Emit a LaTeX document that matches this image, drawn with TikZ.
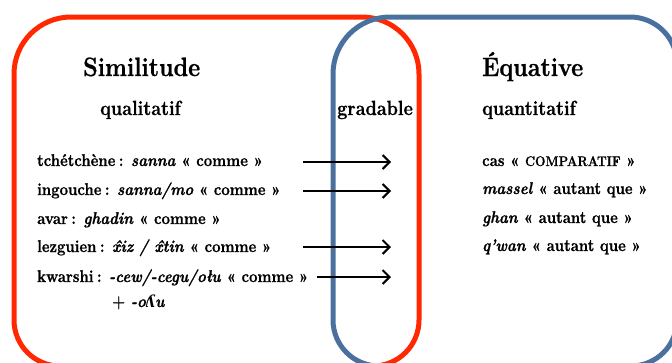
\documentclass[tikz,border=0pt]{standalone}
\usepackage{fontspec}
\setmainfont{Latin Modern Roman}[FakeStretch=0.88, BoldFeatures={FakeBold=0.9}, BoldItalicFeatures={FakeBold=0.9}]
\newfontfamily\ipafont{DejaVu Serif}[FakeStretch=0.85]
\newcommand\myxhat{\ooalign{x\cr\hidewidth\kern0.15em\char"02C6\hidewidth\cr}}
\usetikzlibrary{arrows.meta}
\definecolor{vred}{RGB}{255,40,0}
\definecolor{vblue}{RGB}{74,112,160}
\begin{document}
\begin{tikzpicture}[x=1pt,y=1pt,
  frame/.style={line width=5pt},
  lbl/.style={anchor=base west, inner sep=0pt, font=\bfseries\fontsize{17}{20}\selectfont},
  hdr/.style={anchor=base west, inner sep=0pt, font=\bfseries\fontsize{26.5}{30}\selectfont},
  subh/.style={anchor=base west, inner sep=0pt, font=\bfseries\fontsize{20.5}{24}\selectfont},
  arr/.style={line width=2pt, -{Straight Barb[length=7pt,width=14pt,line width=2pt]}}]
\useasboundingbox (0,0) rectangle (672,-362);
\clip (0,0) rectangle (672,-362);
% red frame
\draw[frame, vred] (14,-74) -- (14,-320) arc[start angle=180,end angle=270,radius=46]
  -- (373,-366) arc[start angle=270,end angle=360,radius=46]
  -- (419,-74) arc[start angle=0,end angle=90,radius=57]
  -- (71,-17) arc[start angle=90,end angle=180,radius=57] -- cycle;
% blue frame
\draw[frame, vblue] (333,-74) -- (333,-320) arc[start angle=180,end angle=270,radius=46]
  -- (631,-366) arc[start angle=270,end angle=360,radius=46]
  -- (677,-64) arc[start angle=0,end angle=90,radius=47]
  -- (390,-17) arc[start angle=90,end angle=180,radius=57] -- cycle;
% headings
\node[hdr] (sim) at (83,-76) {Similitude};
\node[subh] (qual) at (100,-115) {qualitatif};
\node[hdr] (equ) at (482,-76) {Équative};
\node[subh] (quant) at (482,-115) {quantitatif};
\node[subh] (grad) at (337,-115) {gradable};
% left list
\node[lbl] (l1) at (37,-166) {tchétchène\kern0.2em: \textit{sanna} « comme »};
\node[lbl] (l2) at (37,-195) {ingouche\kern0.2em: \textit{sanna/mo} « comme »};
\node[lbl] (l3) at (37,-224) {avar\kern0.2em: \textit{ghadin} « comme »};
\node[lbl] (l4) at (37,-252) {lezguien\kern0.2em: \textit{\myxhat iz / \myxhat tin} « comme »};
\node[lbl] (l5) at (37,-282) {kwarshi\kern0.2em: \textit{-cew/-cegu/ołu} « comme »};
\node[lbl] (l6) at (112,-307) {+ \textit{-o{\ipafont\bfseries\itshape ʎ}u}};
% right list
\node[lbl] (r1) at (482,-166) {cas « {\fontsize{14}{16}\selectfont COMPARATIF} »};
\node[lbl] (r2) at (482,-194) {\textit{massel} « autant que »};
\node[lbl] (r3) at (482,-223) {\textit{ghan} « autant que »};
\node[lbl] (r4) at (482,-251) {\textit{q’wan} « autant que »};
% arrows
\coordinate (a1s) at (303,-162); \coordinate (a1e) at (391,-162);
\coordinate (a2s) at (303,-191); \coordinate (a2e) at (391,-191);
\coordinate (a3s) at (303,-247); \coordinate (a3e) at (391,-247);
\coordinate (a4s) at (317,-277); \coordinate (a4e) at (391,-277);
\draw[arr] (a1s) -- (a1e);
\draw[arr] (a2s) -- (a2e);
\draw[arr] (a3s) -- (a3e);
\draw[arr] (a4s) -- (a4e);
\end{tikzpicture}
\end{document}
